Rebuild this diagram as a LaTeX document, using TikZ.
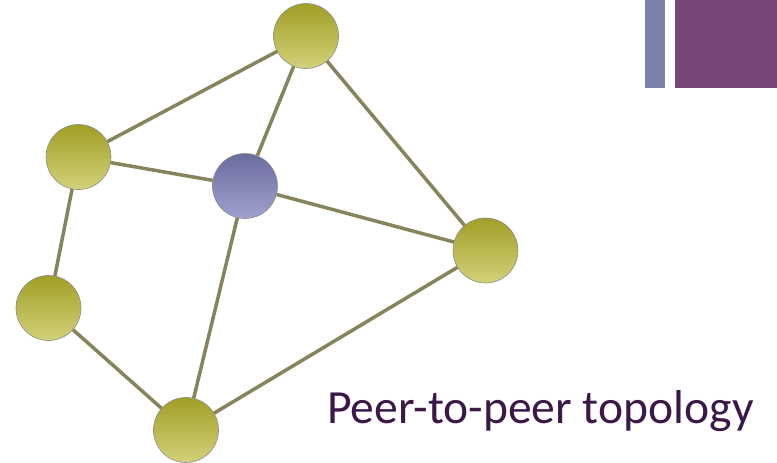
\documentclass[tikz,border=0pt]{standalone}
\usepackage{fontspec}
\setmainfont{Carlito}
\definecolor{barblue}{HTML}{7B80AD}
\definecolor{barpurple}{HTML}{7A4677}
\definecolor{linkolive}{HTML}{85845A}
\definecolor{titlepurple}{HTML}{3A1848}
\definecolor{peertop}{HTML}{A09F26}
\definecolor{peerbottom}{HTML}{D3D17A}
\definecolor{hubtop}{HTML}{6A6C9E}
\definecolor{hubbottom}{HTML}{A0A1CE}
\tikzset{
  peer/.style={circle, draw=black!45, line width=0.6pt, minimum size=65pt, inner sep=0pt,
    top color=peertop, bottom color=peerbottom},
  hub/.style={peer, top color=hubtop, bottom color=hubbottom},
  link/.style={linkolive, line width=3.5pt}
}
\begin{document}
\begin{tikzpicture}[x=1pt,y=-1pt]
        \useasboundingbox (0,0) rectangle (777,463);
        \fill[barblue] (645,0) rectangle (665,88);
        \fill[barpurple] (675,0) rectangle (777,88);
        \node[peer] (top) at (306,36) {};
        \node[peer] (upleft) at (78.5,157) {};
        \node[hub] (hub) at (245,186) {};
        \node[peer] (right) at (485.5,250.5) {};
        \node[peer] (lowleft) at (48.5,308) {};
        \node[peer] (bottom) at (186,430) {};
        \draw[link] (top) -- (upleft);
        \draw[link] (top) -- (hub);
        \draw[link] (top) -- (right);
        \draw[link] (upleft) -- (hub);
        \draw[link] (upleft) -- (lowleft);
        \draw[link] (hub) -- (right);
        \draw[link] (hub) -- (bottom);
        \draw[link] (lowleft) -- (bottom);
        \draw[link] (bottom) -- (right);
        \node[anchor=base west, inner sep=0pt, text=titlepurple, font=\fontsize{47.6}{57}\selectfont] (caption) at (327,423) {Peer-to-peer topology};
    \end{tikzpicture}
\end{document}
